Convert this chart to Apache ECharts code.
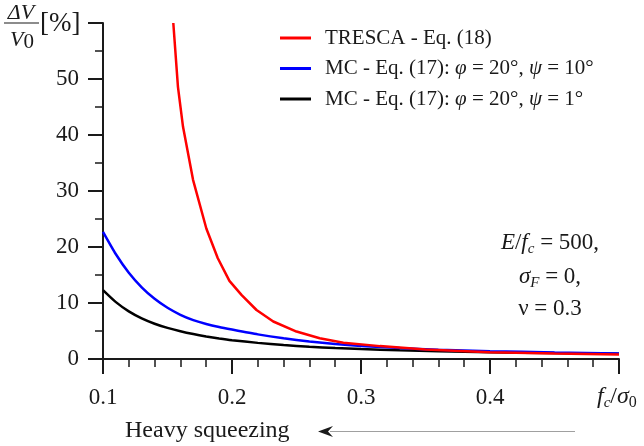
<!DOCTYPE html>
<html>
<head>
<meta charset="utf-8">
<script src="https://cdn.jsdelivr.net/npm/echarts@6/dist/echarts.min.js"></script>
<style>
	html, body { margin: 0; padding: 0; background: #fff; }
	#volumeChart { width: 644px; height: 446px; }
</style>
</head>
<body>
<div id="volumeChart"></div>
<script>
// fc/sigma0 for the two MC curves
var xMc = [0.1, 0.11, 0.12, 0.13, 0.14, 0.15, 0.16, 0.17, 0.18, 0.19, 0.2, 0.22, 0.24, 0.26, 0.28, 0.3, 0.33, 0.36, 0.4, 0.45, 0.5]
var mcPsi10 = [22.7, 18.7, 15.4, 12.8, 10.75, 9.15, 7.9, 6.95, 6.25, 5.7, 5.25, 4.4, 3.7, 3.13, 2.68, 2.32, 1.95, 1.67, 1.4, 1.17, 1.0]
var mcPsi1 = [12.3, 10.15, 8.5, 7.25, 6.3, 5.55, 4.95, 4.45, 4.03, 3.67, 3.36, 2.88, 2.5, 2.18, 1.95, 1.77, 1.56, 1.4, 1.22, 1.05, 0.92]

// TRESCA curve
var xTresca = [0.1545, 0.1581, 0.162, 0.1698, 0.1801, 0.189, 0.198, 0.2075, 0.219, 0.232, 0.25, 0.268, 0.2863, 0.3147, 0.35, 0.4, 0.45, 0.5]
var tresca = [60, 48.6, 41.5, 32.0, 23.3, 18.0, 13.95, 11.4, 8.75, 6.7, 4.9, 3.7, 2.9, 2.3, 1.7, 1.22, 0.97, 0.79]

var seriesNames = ['TRESCA - Eq. (18)', 'MC - Eq. (17): φ = 20°, ψ = 10°', 'MC - Eq. (17): φ = 20°, ψ = 1°']

var FONT = 'Liberation Serif'
var INK = '#1a1a1a'

function toPairs(xs, ys) {
	var out = []
	for (var i = 0; i < xs.length; i++) {
		out.push([xs[i], ys[i]])
	}
	return out
}

function drawVolumeChart() {
	var chartDom = document.getElementById('volumeChart')
	var myChart = echarts.init(chartDom)
	var option

	var subRich = {
		i: { fontFamily: FONT, fontSize: 23, fontStyle: 'italic', fill: INK, lineHeight: 28 },
		n: { fontFamily: FONT, fontSize: 23, fill: INK, lineHeight: 28 },
		s: { fontFamily: FONT, fontSize: 15, fontStyle: 'italic', fill: INK, lineHeight: 10, verticalAlign: 'bottom' },
		s0: { fontFamily: FONT, fontSize: 15, fill: INK, lineHeight: 10, verticalAlign: 'bottom' },
	}

	option = {
		animation: false,
		grid: {
			left: 103,
			right: 25,
			top: 23,
			bottom: 87,
		},
		legend: {
			data: seriesNames,
			orient: 'vertical',
			left: 275,
			top: 22,
			itemWidth: 31,
			itemHeight: 3,
			itemGap: 8.5,
			icon: 'rect',
			textStyle: {
				fontFamily: FONT,
				fontSize: 21,
				color: INK,
				lineHeight: 22,
				padding: [0, 0, 0, 9],
				rich: {
					i: { fontFamily: FONT, fontSize: 21, fontStyle: 'italic', color: INK },
				},
			},
			formatter: function (name) {
				return name.replace('φ', '{i|φ}').replace('ψ', '{i|ψ}')
			},
		},
		xAxis: {
			type: 'value',
			min: 0.1,
			max: 0.5,
			interval: 0.1,
			splitLine: { show: false },
			axisLine: { lineStyle: { color: INK, width: 2 } },
			axisTick: { length: 15, lineStyle: { color: INK, width: 2 } },
			minorTick: { show: true, splitNumber: 5, length: 8, lineStyle: { color: INK, width: 1.5 } },
			axisLabel: {
				margin: 27,
				fontFamily: FONT,
				fontSize: 23,
				color: INK,
				formatter: function (value) {
					if (Math.abs(value - 0.5) < 1e-6) return ''
					return value.toFixed(1)
				},
			},
		},
		yAxis: {
			type: 'value',
			min: 0,
			max: 60,
			interval: 10,
			splitLine: { show: false },
			axisLine: { show: true, lineStyle: { color: INK, width: 2 } },
			axisTick: { show: true, length: 15, lineStyle: { color: INK, width: 2 } },
			minorTick: { show: true, splitNumber: 2, length: 8, lineStyle: { color: INK, width: 1.5 } },
			axisLabel: {
				margin: 24,
				fontFamily: FONT,
				fontSize: 23,
				color: INK,
				formatter: function (value) {
					return value === 60 ? '' : value
				},
			},
		},
		series: [
			{
				name: seriesNames[2],
				type: 'line',
				data: toPairs(xMc, mcPsi1),
				showSymbol: false,
				smooth: 0.2,
				color: '#000000',
				lineStyle: { width: 2.5 },
			},
			{
				name: seriesNames[1],
				type: 'line',
				data: toPairs(xMc, mcPsi10),
				showSymbol: false,
				smooth: 0.2,
				color: '#0000ff',
				lineStyle: { width: 2.5 },
			},
			{
				name: seriesNames[0],
				type: 'line',
				data: toPairs(xTresca, tresca),
				showSymbol: false,
				color: '#ff0000',
				lineStyle: { width: 2.5 },
			},
		],
		graphic: [
			// y axis name: dV / V0 [%]
			{
				type: 'text',
				style: { text: 'ΔV', x: 21, y: 13, align: 'center', verticalAlign: 'middle', fontFamily: FONT, fontSize: 22, fontStyle: 'italic', fill: INK },
			},
			{
				type: 'line',
				shape: { x1: 4, y1: 23, x2: 39, y2: 23 },
				style: { stroke: INK, lineWidth: 1.2 },
			},
			{
				type: 'text',
				style: {
					text: '{i|V}{n|0}',
					x: 22,
					y: 40,
					align: 'center',
					verticalAlign: 'middle',
					rich: {
						i: { fontFamily: FONT, fontSize: 22, fontStyle: 'italic', fill: INK, lineHeight: 26 },
						n: { fontFamily: FONT, fontSize: 21, fill: INK, lineHeight: 20, verticalAlign: 'bottom' },
					},
				},
			},
			{
				type: 'text',
				style: { text: '[%]', x: 40, y: 24, align: 'left', verticalAlign: 'middle', fontFamily: FONT, fontSize: 27, fill: INK },
			},
			// x axis name: fc / sigma0
			{
				type: 'text',
				style: {
					text: '{i|f}{s|c}{n|/}{i|σ}{s0|0}',
					x: 597,
					y: 397,
					align: 'left',
					verticalAlign: 'middle',
					rich: {
						i: { fontFamily: FONT, fontSize: 24, fontStyle: 'italic', fill: INK, lineHeight: 28 },
						n: { fontFamily: FONT, fontSize: 24, fill: INK, lineHeight: 28 },
						s: subRich.s,
						s0: { fontFamily: FONT, fontSize: 16, fill: INK, lineHeight: 10, verticalAlign: 'bottom' },
					},
				},
			},
			// parameters
			{
				type: 'text',
				style: {
					text: '{i|E}{n|/}{i|f}{s|c}{n| = 500,}',
					x: 550,
					y: 243,
					align: 'center',
					verticalAlign: 'middle',
					rich: subRich,
				},
			},
			{
				type: 'text',
				style: {
					text: '{i|σ}{s|F}{n| = 0,}',
					x: 550,
					y: 277,
					align: 'center',
					verticalAlign: 'middle',
					rich: subRich,
				},
			},
			{
				type: 'text',
				style: { text: 'ν = 0.3', x: 550, y: 309, align: 'center', verticalAlign: 'middle', fontFamily: FONT, fontSize: 23, fill: INK },
			},
			// heavy squeezing arrow
			{
				type: 'text',
				style: { text: 'Heavy squeezing', x: 125, y: 431, align: 'left', verticalAlign: 'middle', fontFamily: FONT, fontSize: 24, fill: INK },
			},
			{
				type: 'line',
				shape: { x1: 330, y1: 431.5, x2: 575, y2: 431.5 },
				style: { stroke: '#a0a0a0', lineWidth: 1 },
			},
			{
				type: 'polygon',
				shape: { points: [[318, 431.5], [333, 426], [328, 431.5], [333, 437]] },
				style: { fill: INK },
			},
		],
	}

	option && myChart.setOption(option)
}

drawVolumeChart()
</script>
</body>
</html>
